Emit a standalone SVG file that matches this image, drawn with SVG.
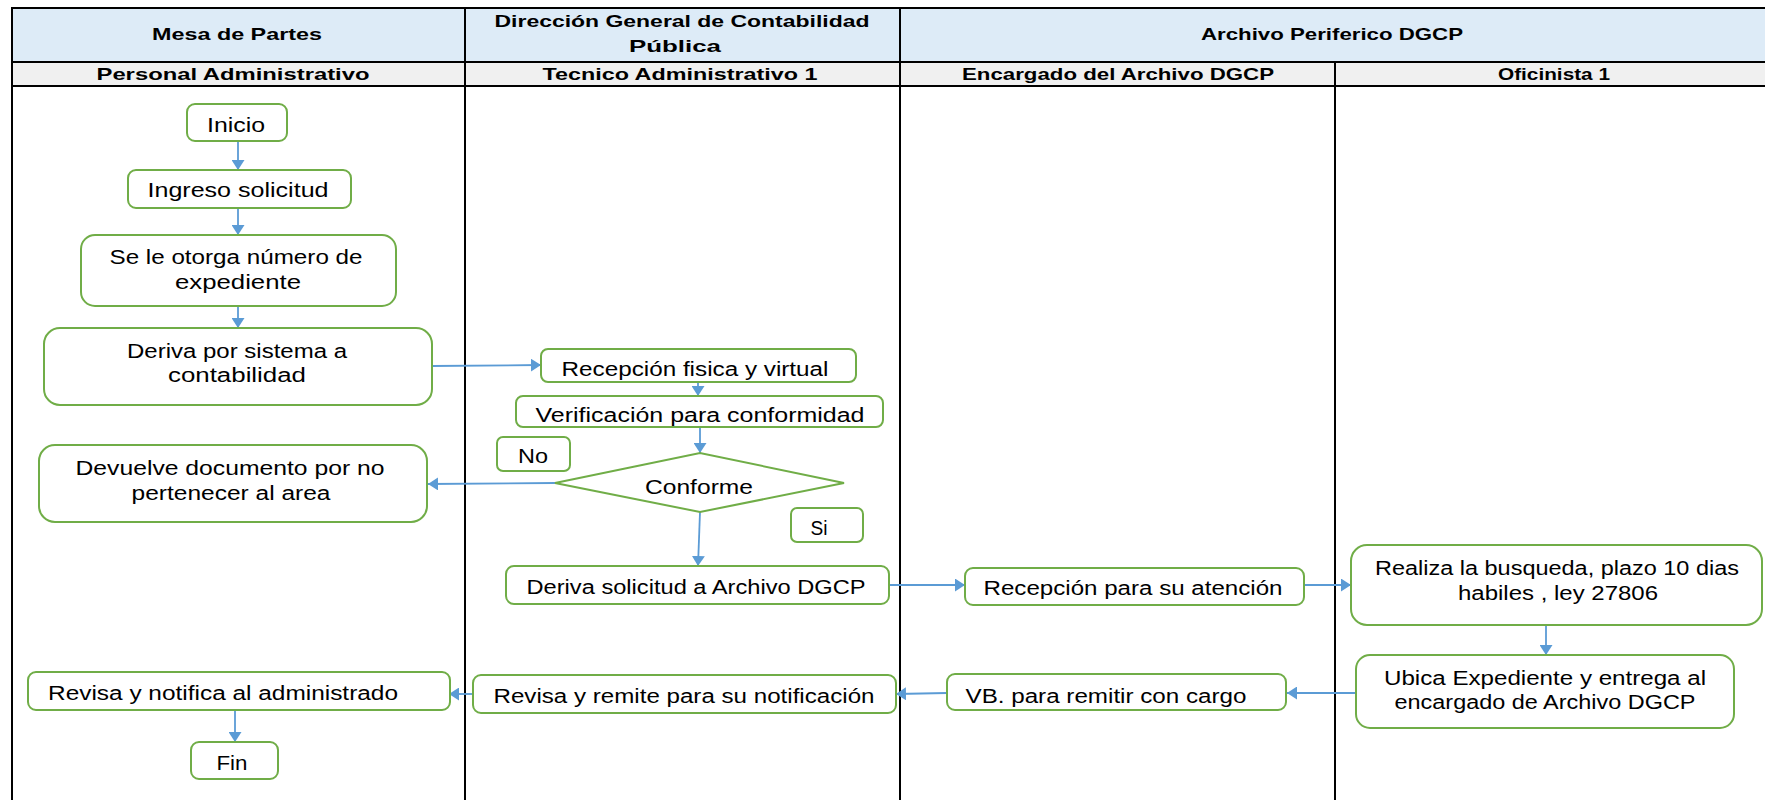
<svg xmlns="http://www.w3.org/2000/svg" width="1765" height="800" viewBox="0 0 1765 800">
<style>
.node rect,.node polygon{fill:#fff;stroke:#70AD47;stroke-width:2}
.t{font-family:"Liberation Sans",Arial,sans-serif;font-size:20px;fill:#000;text-anchor:middle}
.h{font-family:"Liberation Sans",Arial,sans-serif;font-size:17px;font-weight:bold;fill:#000;text-anchor:middle}
.grid{stroke:#000;stroke-width:2;fill:none}
.conn path{stroke:#5B9BD5;stroke-width:1.8;fill:none;marker-end:url(#ah)}
</style>
<defs>
<marker id="ah" markerUnits="userSpaceOnUse" markerWidth="11" markerHeight="13" refX="10" refY="6.5" orient="auto">
<path d="M0,0 L10,6.5 L0,13 z" fill="#5B9BD5"/>
</marker>
</defs>
<rect x="0" y="0" width="1765" height="800" fill="#fff"/>
<g id="header">
<rect x="12" y="8" width="1753" height="54" fill="#DDEBF7"/>
<rect x="12" y="62" width="1753" height="24" fill="#F0F0F0"/>
<path class="grid" d="M11,8 H1765 M12,62 H1765 M12,86 H1765 M12,7 V800 M465,7 V800 M900,7 V800 M1335,62 V800"/>
<text class="h" x="237" y="40" textLength="170" lengthAdjust="spacingAndGlyphs">Mesa de Partes</text>
<text class="h" x="682" y="27" textLength="375" lengthAdjust="spacingAndGlyphs">Dirección General de Contabilidad</text>
<text class="h" x="675" y="52" textLength="92" lengthAdjust="spacingAndGlyphs">Pública</text>
<text class="h" x="1332" y="40" textLength="262" lengthAdjust="spacingAndGlyphs">Archivo Periferico DGCP</text>
<text class="h" x="233" y="80" textLength="273" lengthAdjust="spacingAndGlyphs">Personal Administrativo</text>
<text class="h" x="680" y="80" textLength="275" lengthAdjust="spacingAndGlyphs">Tecnico Administrativo 1</text>
<text class="h" x="1118" y="80" textLength="312" lengthAdjust="spacingAndGlyphs">Encargado del Archivo DGCP</text>
<text class="h" x="1554" y="80" textLength="112" lengthAdjust="spacingAndGlyphs">Oficinista 1</text>
</g>
<g id="connectors" class="conn">
<path d="M238,141 V170"/>
<path d="M238,208 V235"/>
<path d="M238,306 V328"/>
<path d="M432,366 L541,365"/>
<path d="M698,382 V396"/>
<path d="M700,427 V453"/>
<path d="M555,483 L428,484"/>
<path d="M700,512 L698,566"/>
<path d="M889,585 H965"/>
<path d="M1304,585 H1351"/>
<path d="M1546,625 V655"/>
<path d="M1356,693 H1287"/>
<path d="M947,693 L896,694"/>
<path d="M473,694 H449"/>
<path d="M235,706 V742"/>
</g>
<g id="n-inicio" class="node"><rect x="187" y="104" width="100" height="37" rx="8"/><text class="t" x="236" y="132" textLength="58" lengthAdjust="spacingAndGlyphs">Inicio</text></g>
<g id="n-ingreso" class="node"><rect x="128" y="170" width="223" height="38" rx="8"/><text class="t" x="238" y="197" textLength="181" lengthAdjust="spacingAndGlyphs">Ingreso solicitud</text></g>
<g id="n-otorga" class="node"><rect x="81" y="235" width="315" height="71" rx="14"/><text class="t" x="236" y="264" textLength="253" lengthAdjust="spacingAndGlyphs">Se le otorga número de</text><text class="t" x="238" y="289" textLength="126" lengthAdjust="spacingAndGlyphs">expediente</text></g>
<g id="n-deriva" class="node"><rect x="44" y="328" width="388" height="77" rx="16"/><text class="t" x="237" y="358" textLength="220" lengthAdjust="spacingAndGlyphs">Deriva por sistema a</text><text class="t" x="237" y="382" textLength="138" lengthAdjust="spacingAndGlyphs">contabilidad</text></g>
<g id="n-recepcion" class="node"><rect x="541" y="349" width="315" height="33" rx="7"/><text class="t" x="695" y="376" textLength="267" lengthAdjust="spacingAndGlyphs">Recepción fisica y virtual</text></g>
<g id="n-verif" class="node"><rect x="516" y="396" width="367" height="31" rx="7"/><text class="t" x="700" y="422" textLength="329" lengthAdjust="spacingAndGlyphs">Verificación para conformidad</text></g>
<g id="n-no" class="node"><rect x="497" y="437" width="73" height="34" rx="6"/><text class="t" x="533" y="463" textLength="30" lengthAdjust="spacingAndGlyphs">No</text></g>
<g id="n-conforme" class="node"><polygon points="555,483 700,453 844,483 700,512"/><text class="t" x="699" y="494" textLength="108" lengthAdjust="spacingAndGlyphs">Conforme</text></g>
<g id="n-si" class="node"><rect x="791" y="508" width="72" height="34" rx="6"/><text class="t" x="819" y="535" textLength="17" lengthAdjust="spacingAndGlyphs">Si</text></g>
<g id="n-devuelve" class="node"><rect x="39" y="445" width="388" height="77" rx="16"/><text class="t" x="230" y="475" textLength="309" lengthAdjust="spacingAndGlyphs">Devuelve documento por no</text><text class="t" x="231" y="500" textLength="199" lengthAdjust="spacingAndGlyphs">pertenecer al area</text></g>
<g id="n-derivasol" class="node"><rect x="506" y="566" width="383" height="38" rx="8"/><text class="t" x="696" y="594" textLength="339" lengthAdjust="spacingAndGlyphs">Deriva solicitud a Archivo DGCP</text></g>
<g id="n-recatencion" class="node"><rect x="965" y="568" width="339" height="37" rx="8"/><text class="t" x="1133" y="595" textLength="299" lengthAdjust="spacingAndGlyphs">Recepción para su atención</text></g>
<g id="n-realiza" class="node"><rect x="1351" y="545" width="411" height="80" rx="16"/><text class="t" x="1557" y="575" textLength="364" lengthAdjust="spacingAndGlyphs">Realiza la busqueda, plazo 10 dias</text><text class="t" x="1558" y="600" textLength="200" lengthAdjust="spacingAndGlyphs">habiles , ley 27806</text></g>
<g id="n-ubica" class="node"><rect x="1356" y="655" width="378" height="73" rx="14"/><text class="t" x="1545" y="685" textLength="322" lengthAdjust="spacingAndGlyphs">Ubica Expediente y entrega al</text><text class="t" x="1545" y="709" textLength="301" lengthAdjust="spacingAndGlyphs">encargado de Archivo DGCP</text></g>
<g id="n-vb" class="node"><rect x="947" y="674" width="339" height="36" rx="8"/><text class="t" x="1106" y="703" textLength="281" lengthAdjust="spacingAndGlyphs">VB. para remitir con cargo</text></g>
<g id="n-remite" class="node"><rect x="473" y="675" width="423" height="38" rx="8"/><text class="t" x="684" y="703" textLength="381" lengthAdjust="spacingAndGlyphs">Revisa y remite para su notificación</text></g>
<g id="n-notifica" class="node"><rect x="28" y="672" width="422" height="38" rx="8"/><text class="t" x="223" y="700" textLength="350" lengthAdjust="spacingAndGlyphs">Revisa y notifica al administrado</text></g>
<g id="n-fin" class="node"><rect x="191" y="742" width="87" height="37" rx="8"/><text class="t" x="232" y="770" textLength="31" lengthAdjust="spacingAndGlyphs">Fin</text></g>
</svg>
